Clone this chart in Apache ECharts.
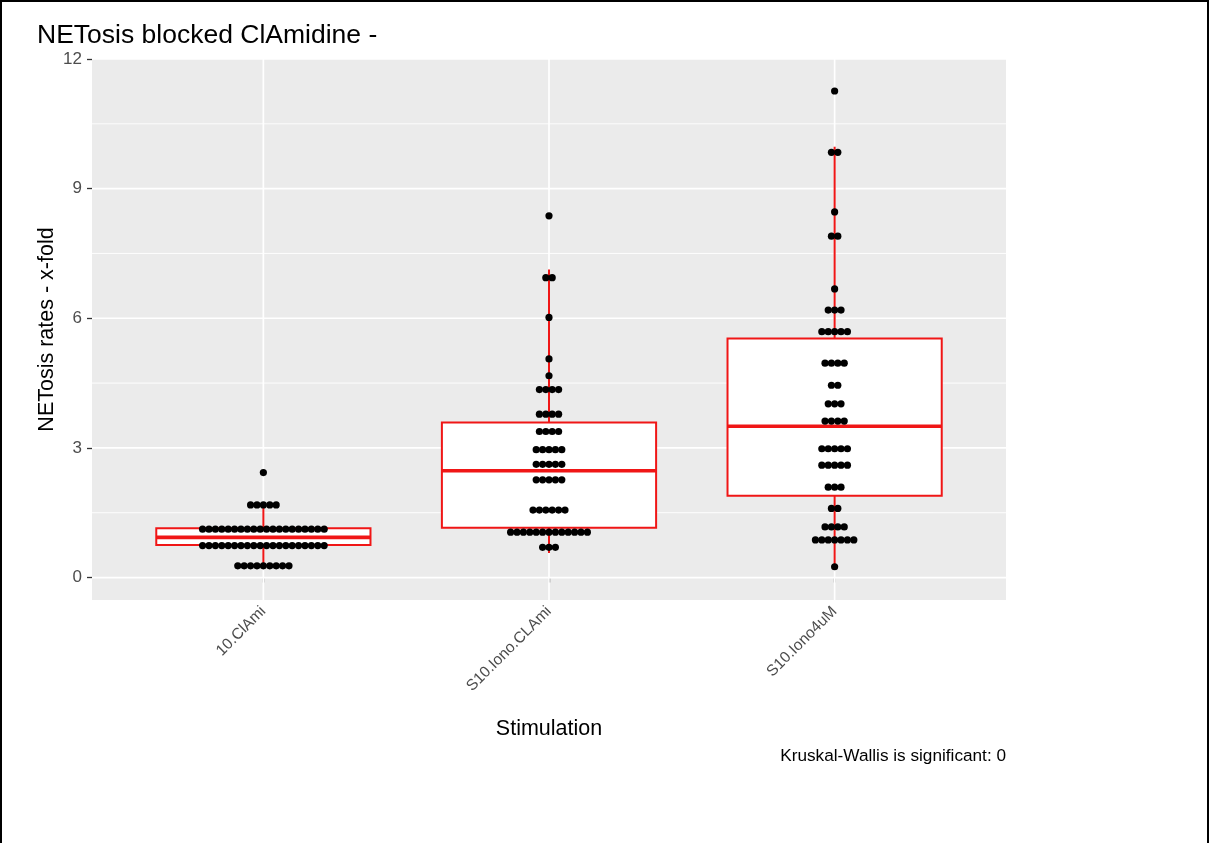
<!DOCTYPE html>
<html>
<head>
<meta charset="utf-8">
<title>NETosis blocked ClAmidine</title>
<script src="https://cdn.jsdelivr.net/npm/echarts@6/dist/echarts.min.js"></script>
<style>
  html, body { margin: 0; padding: 0; background: #ffffff; }
  #chart { width: 1210px; height: 843px; }
</style>
</head>
<body>
<div id="chart"></div>
<script>
// ---- data -------------------------------------------------------------
const categories = ['10.ClAmi', 'S10.Iono.CLAmi', 'S10.Iono4uM'];
const yTicks = [0, 3, 6, 9, 12];
const yMinorTicks = [1.5, 4.5, 7.5, 10.5];

// one entry per dot (values as binned by the dot plot)
const clAmiValues = [
  2.43,
  1.68, 1.68, 1.68, 1.68, 1.68,
  1.12, 1.12, 1.12, 1.12, 1.12, 1.12, 1.12, 1.12, 1.12, 1.12,
  1.12, 1.12, 1.12, 1.12, 1.12, 1.12, 1.12, 1.12, 1.12, 1.12,
  0.74, 0.74, 0.74, 0.74, 0.74, 0.74, 0.74, 0.74, 0.74, 0.74,
  0.74, 0.74, 0.74, 0.74, 0.74, 0.74, 0.74, 0.74, 0.74, 0.74,
  0.27, 0.27, 0.27, 0.27, 0.27, 0.27, 0.27, 0.27, 0.27
];
const ionoClAmiValues = [
  8.37,
  6.94, 6.94,
  6.02,
  5.06,
  4.67,
  4.35, 4.35, 4.35, 4.35,
  3.78, 3.78, 3.78, 3.78,
  3.38, 3.38, 3.38, 3.38,
  2.96, 2.96, 2.96, 2.96, 2.96,
  2.62, 2.62, 2.62, 2.62, 2.62,
  2.26, 2.26, 2.26, 2.26, 2.26,
  1.56, 1.56, 1.56, 1.56, 1.56, 1.56,
  1.05, 1.05, 1.05, 1.05, 1.05, 1.05, 1.05, 1.05, 1.05, 1.05, 1.05, 1.05, 1.05,
  0.70, 0.70, 0.70
];
const iono4uMValues = [
  11.26,
  9.84, 9.84,
  8.46,
  7.90, 7.90,
  6.68,
  6.19, 6.19, 6.19,
  5.69, 5.69, 5.69, 5.69, 5.69,
  4.96, 4.96, 4.96, 4.96,
  4.45, 4.45,
  4.02, 4.02, 4.02,
  3.62, 3.62, 3.62, 3.62,
  2.98, 2.98, 2.98, 2.98, 2.98,
  2.60, 2.60, 2.60, 2.60, 2.60,
  2.09, 2.09, 2.09,
  1.60, 1.60,
  1.17, 1.17, 1.17, 1.17,
  0.87, 0.87, 0.87, 0.87, 0.87, 0.87, 0.87,
  0.25
];

// box statistics: [lower whisker, Q1, median, Q3, upper whisker]
const clAmiBox = [0.27, 0.75, 0.93, 1.14, 1.68];
const ionoClAmiBox = [0.57, 1.15, 2.47, 3.59, 7.13];
const iono4uMBox = [0.25, 1.89, 3.50, 5.53, 9.97];

const caption = 'Kruskal-Wallis is significant: 0';

// ---- styling constants ------------------------------------------------
const FONT = "'Liberation Sans', Arial, sans-serif";
const RED = '#f01616';
const X_MIN = 0.4, X_MAX = 3.6;
const Y_MIN = -0.52, Y_MAX = 12;
const BOX_HALF = 0.375;   // half box width in category units
const DOT_STEP = 6.4;     // horizontal distance between stacked dots (px)

// ---- build series data ------------------------------------------------
const groups = [clAmiValues, ionoClAmiValues, iono4uMValues];
const boxes = [clAmiBox, ionoClAmiBox, iono4uMBox];

// centre-stacked dot rows: dots sharing a bin value are spread sideways
const dotData = [];
groups.forEach((vals, gi) => {
  const rows = new Map();
  vals.forEach(v => rows.set(v, (rows.get(v) || 0) + 1));
  rows.forEach((n, v) => {
    for (let j = 0; j < n; j++) {
      dotData.push({ value: [gi + 1, v], symbolOffset: [(j - (n - 1) / 2) * DOT_STEP, 0] });
    }
  });
});

const boxData = boxes.map((b, gi) => [gi + 1].concat(b));
const hGridData = yTicks.map(v => [v, 1]).concat(yMinorTicks.map(v => [v, 0]));
const vGridData = categories.map((c, i) => [i + 1]);

const chart = echarts.init(document.getElementById('chart'), null, { renderer: 'canvas' });

chart.setOption({
  animation: false,
  backgroundColor: '#ffffff',
  title: [
    {
      text: 'NETosis blocked ClAmidine -',
      left: 37, top: 22, padding: 0,
      textStyle: { fontFamily: FONT, fontSize: 26.5, fontWeight: 'normal', color: '#000' }
    },
    {
      text: caption,
      right: 204, top: 748, padding: 0,
      textStyle: { fontFamily: FONT, fontSize: 17.2, fontWeight: 'normal', color: '#000' }
    }
  ],
  graphic: [{
    type: 'rect',
    shape: { x: 1, y: 1, width: 1207, height: 850 },
    style: { fill: 'none', stroke: '#000', lineWidth: 2 },
    silent: true, z: 100
  }],
  grid: {
    left: 92, top: 59, width: 914, height: 541,
    show: true, backgroundColor: '#ebebeb', borderWidth: 0
  },
  xAxis: {
    type: 'value', min: X_MIN, max: X_MAX,
    axisLine: { show: false },
    splitLine: { show: false },
    axisTick: { show: true, customValues: [1, 2, 3], length: 5, lineStyle: { color: '#333', width: 1.3 } },
    axisLabel: {
      customValues: [1, 2, 3],
      formatter: v => categories[Math.round(v) - 1],
      rotate: 45, margin: 9,
      color: '#4d4d4d', fontFamily: FONT, fontSize: 15.5
    },
    name: 'Stimulation', nameLocation: 'middle', nameGap: 118,
    nameMoveOverlap: false,
    nameTextStyle: { fontFamily: FONT, fontSize: 21.5, color: '#000' }
  },
  yAxis: {
    type: 'value', min: Y_MIN, max: Y_MAX,
    axisLine: { show: false },
    splitLine: { show: false },
    axisTick: { show: true, customValues: yTicks, length: 5, lineStyle: { color: '#333', width: 1.3 } },
    axisLabel: {
      customValues: yTicks, margin: 10,
      color: '#4d4d4d', fontFamily: FONT, fontSize: 17
    },
    name: 'NETosis rates - x-fold', nameLocation: 'middle', nameGap: 34,
    nameMoveOverlap: false,
    nameTextStyle: { fontFamily: FONT, fontSize: 21.5, color: '#000' }
  },
  series: [
    {
      // horizontal panel grid (major + minor)
      type: 'custom', silent: true, z: 1,
      data: hGridData,
      encode: { y: 0 },
      renderItem: (params, api) => {
        const v = api.value(0);
        const a = api.coord([X_MIN, v]);
        const b = api.coord([X_MAX, v]);
        return {
          type: 'line',
          shape: { x1: a[0], y1: a[1], x2: b[0], y2: b[1] },
          style: { stroke: '#ffffff', lineWidth: api.value(1) ? 1.7 : 0.9 }
        };
      }
    },
    {
      // vertical panel grid at each category
      type: 'custom', silent: true, z: 1,
      data: vGridData,
      encode: { x: 0 },
      renderItem: (params, api) => {
        const x = api.value(0);
        const a = api.coord([x, Y_MIN]);
        const b = api.coord([x, Y_MAX]);
        return {
          type: 'line',
          shape: { x1: a[0], y1: a[1], x2: b[0], y2: b[1] },
          style: { stroke: '#ffffff', lineWidth: 1.7 }
        };
      }
    },
    {
      // boxplots
      type: 'custom', silent: true, z: 2,
      data: boxData,
      encode: { x: 0, y: [1, 2, 3, 4, 5] },
      renderItem: (params, api) => {
        const x = api.value(0);
        const lo = api.coord([x, api.value(1)]);
        const q1 = api.coord([x, api.value(2)]);
        const q3 = api.coord([x, api.value(4)]);
        const hi = api.coord([x, api.value(5)]);
        const tl = api.coord([x - BOX_HALF, api.value(4)]);
        const br = api.coord([x + BOX_HALF, api.value(2)]);
        const ml = api.coord([x - BOX_HALF, api.value(3)]);
        const mr = api.coord([x + BOX_HALF, api.value(3)]);
        return {
          type: 'group',
          children: [
            { type: 'line', shape: { x1: lo[0], y1: lo[1], x2: q1[0], y2: q1[1] }, style: { stroke: RED, lineWidth: 2 } },
            { type: 'line', shape: { x1: q3[0], y1: q3[1], x2: hi[0], y2: hi[1] }, style: { stroke: RED, lineWidth: 2 } },
            { type: 'rect', shape: { x: tl[0], y: tl[1], width: br[0] - tl[0], height: br[1] - tl[1] }, style: { fill: '#ffffff', stroke: RED, lineWidth: 2 } },
            { type: 'line', shape: { x1: ml[0], y1: ml[1], x2: mr[0], y2: mr[1] }, style: { stroke: RED, lineWidth: 3.6 } }
          ]
        };
      }
    },
    {
      // individual observations
      type: 'scatter', silent: true, z: 3,
      symbol: 'circle', symbolSize: 7.2,
      itemStyle: { color: '#000000', opacity: 1 },
      data: dotData
    }
  ]
});
</script>
</body>
</html>
